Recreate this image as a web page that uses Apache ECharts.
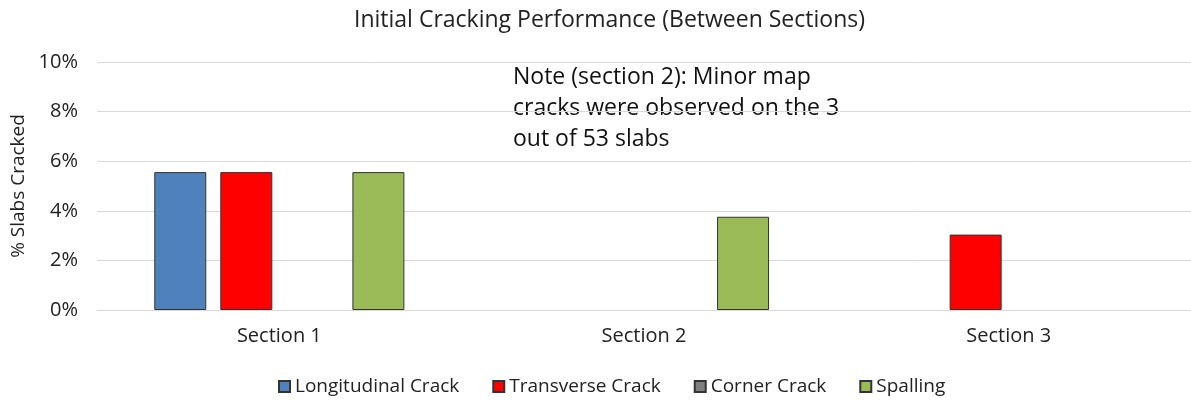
<!DOCTYPE html>
<html>
<head>
<meta charset="utf-8">
<script src="https://cdn.jsdelivr.net/npm/echarts@6/dist/echarts.min.js"></script>
<style>
  html, body { margin: 0; padding: 0; background: #fff; }
  #chart { width: 1191px; height: 402px; }
</style>
</head>
<body>
<div id="chart"></div>
<script>
var categories = ['Section 1', 'Section 2', 'Section 3'];
var longitudinal = [5.56, 0, 0];
var transverse = [5.56, 0, 3.04];
var corner = [0, 0, 0];
var spalling = [5.56, 3.76, 0];
var yTicks = [0, 2, 4, 6, 8, 10];
var seriesNames = ['Longitudinal Crack', 'Transverse Crack', 'Corner Crack', 'Spalling'];
var seriesColors = ['#4f81bd', '#ff0000', '#808080', '#9bbb59'];
var noteText = 'Note (section 2): Minor map\ncracks were observed on the 3\nout of 53 slabs';

var fontFam = '"Open Sans", "Noto Sans", sans-serif';
var chart = echarts.init(document.getElementById('chart'));

function bar(i, data) {
  return {
    name: seriesNames[i],
    type: 'bar',
    // zero values leave an empty slot, like the original
    data: data.map(function (v) { return v === 0 ? '-' : v; }),
    barWidth: 52,
    barGap: '27%',
    itemStyle: { color: seriesColors[i], borderColor: '#333', borderWidth: 1 }
  };
}

var option = {
  animation: false,
  title: {
    text: 'Initial Cracking Performance (Between Sections)',
    left: 349,
    top: 4,
    textStyle: { fontFamily: fontFam, fontSize: 23, fontWeight: 'normal', color: '#222' }
  },
  legend: {
    data: seriesNames,
    bottom: 1,
    left: 273,
    itemWidth: 11,
    itemHeight: 11,
    itemGap: 33,
    icon: 'rect',
    textStyle: { fontFamily: fontFam, fontSize: 19, color: '#222' }
  },
  grid: { left: 97, right: 0, top: 62, bottom: 92, outerBoundsMode: 'none', containLabel: false },
  xAxis: {
    type: 'category',
    data: categories,
    axisTick: { show: false },
    axisLine: { lineStyle: { color: '#d9d9d9' } },
    axisLabel: { fontFamily: fontFam, fontSize: 20, color: '#222', margin: 16 }
  },
  yAxis: {
    type: 'value',
    min: yTicks[0],
    max: yTicks[yTicks.length - 1],
    interval: yTicks[1] - yTicks[0],
    name: '% Slabs Cracked',
    nameLocation: 'middle',
    nameGap: 69,
    nameTextStyle: { fontFamily: fontFam, fontSize: 19, color: '#222' },
    axisLabel: { formatter: '{value}%', fontFamily: fontFam, fontSize: 20, color: '#222', margin: 19 },
    splitLine: { lineStyle: { color: '#d9d9d9' } }
  },
  graphic: [{
    type: 'text',
    left: 513,
    top: 62,
    style: { text: noteText, fontFamily: fontFam, fontSize: 23, lineHeight: 31, fill: '#111' }
  }],
  series: [
    bar(0, longitudinal),
    bar(1, transverse),
    bar(2, corner),
    bar(3, spalling)
  ]
};
option && chart.setOption(option);
</script>
</body>
</html>
